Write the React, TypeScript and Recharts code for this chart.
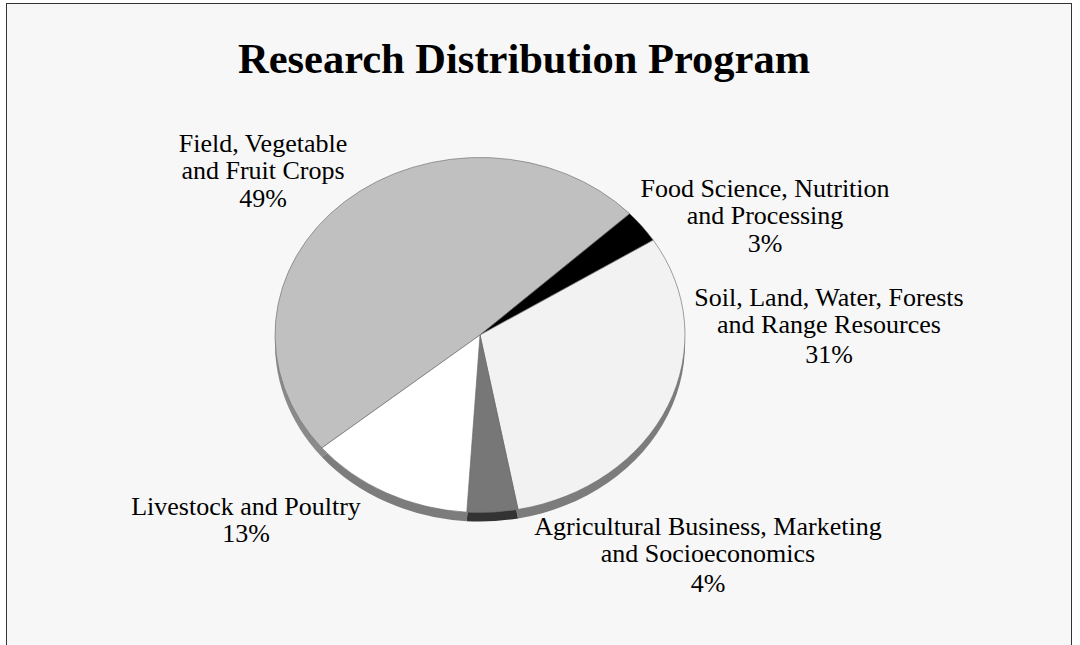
import { PieChart, Pie } from 'recharts';

// slice order as it runs clockwise from the lower-left edge of the big slice
const categories = [
  ['Field, Vegetable', 'and Fruit Crops'],
  ['Food Science, Nutrition', 'and Processing'],
  ['Soil, Land, Water, Forests', 'and Range Resources'],
  ['Agricultural Business, Marketing', 'and Socioeconomics'],
  ['Livestock and Poultry'],
];
const shares = [49, 3, 31, 4, 13];

const topColors = ['#c0c0c0', '#000000', '#f2f2f2', '#777777', '#ffffff'];
const sideColors = ['#8a8a8a', '#000000', '#7c7c7c', '#333333', '#7c7c7c'];

// label placement: centre x and baseline of each line
const labelLayout = [
  { x: 263, ys: [152, 179, 207] },
  { x: 765, ys: [197, 224, 252] },
  { x: 829, ys: [306, 333, 363] },
  { x: 708, ys: [535, 562, 592] },
  { x: 246, ys: [515, 542] },
];

const W = 1080;
const H = 645;
const CX = 480;
const CY = 335;
const SQUASH = 0.866;

const tableData = categories.map((lines, i) => ({
  name: lines.join(' '),
  value: shares[i],
  fill: topColors[i],
}));
const sideData = categories.map((lines, i) => ({
  name: lines.join(' '),
  value: shares[i],
  fill: sideColors[i],
}));

const font = '"Liberation Serif", "Times New Roman", serif';

function renderLabel(props: any) {
  const i = props.index;
  const pos = labelLayout[i];
  const lines = [...categories[i], `${shares[i]}%`];
  return (
    <text key={`lbl-${i}`} fontFamily={font} fontSize={26} fill="#000" textAnchor="middle">
      {lines.map((t, k) => (
        <tspan key={k} x={pos.x} y={pos.ys[k]}>{t}</tspan>
      ))}
    </text>
  );
}

export default function App() {
  return (
    <div style={{ position: 'absolute', left: 0, top: 0, width: W, height: H, overflow: 'hidden', background: '#fff' }}>
      <style>{`.recharts-sector { transform: scaleY(${SQUASH}); transform-origin: ${CX}px ${CY}px; }`}</style>
      <div
        style={{
          position: 'absolute', left: 6, top: 3, width: 1066, height: 720,
          border: '1.5px solid #333', background: '#f7f7f7', boxSizing: 'border-box',
        }}
      />
      <div style={{ position: 'absolute', left: 0, top: 0 }}>
        <PieChart width={W} height={H} margin={{ top: 0, right: 0, bottom: 0, left: 0 }}>
          <Pie
            data={sideData}
            dataKey="value"
            cx={CX}
            cy={CY + 9 / SQUASH}
            outerRadius={205}
            startAngle={219.5}
            endAngle={-140.5}
            stroke="none"
            label={false}
            labelLine={false}
            isAnimationActive={false}
          />
          <Pie
            data={tableData}
            dataKey="value"
            cx={CX}
            cy={CY}
            outerRadius={205}
            startAngle={219.5}
            endAngle={-140.5}
            stroke="#6e6e6e"
            strokeWidth={0.7}
            label={renderLabel}
            labelLine={false}
            isAnimationActive={false}
          />
        </PieChart>
      </div>
      <svg width={W} height={H} style={{ position: 'absolute', left: 0, top: 0, pointerEvents: 'none' }}>
        <text x={524} y={73} textAnchor="middle" fontFamily={font} fontWeight="bold" fontSize={42.5} fill="#000">
          Research Distribution Program
        </text>
      </svg>
    </div>
  );
}
